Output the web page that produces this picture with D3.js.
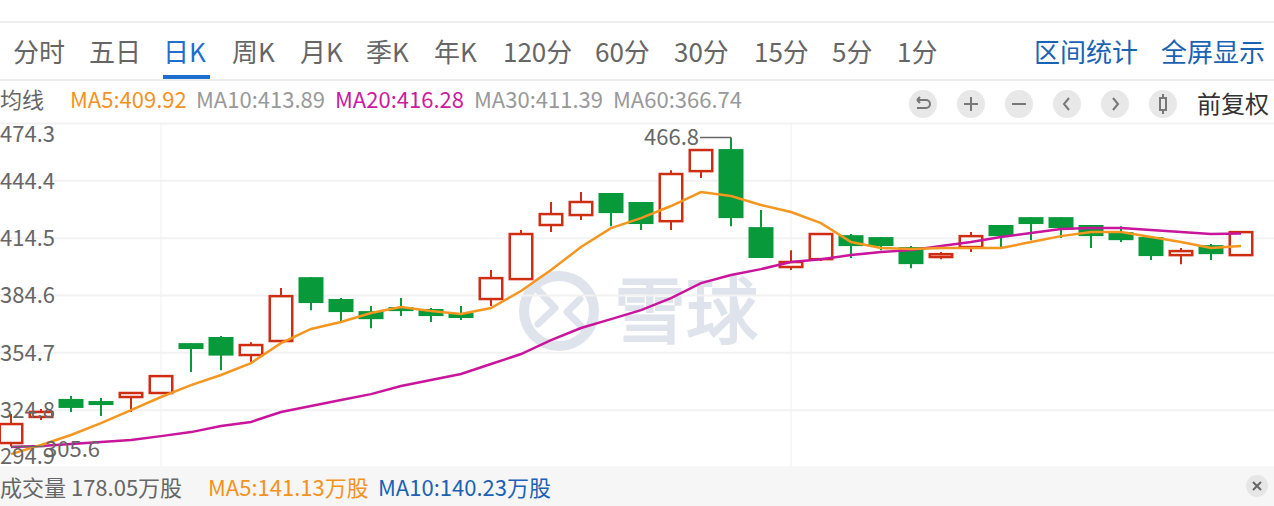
<!DOCTYPE html>
<html>
<head>
<meta charset="utf-8">
<script src="https://cdn.jsdelivr.net/npm/d3@7"></script>
<style>
  html, body { margin: 0; padding: 0; background: #fff; overflow: hidden; }
  svg { display: block; }
  text { font-family: "Noto Sans CJK SC", "Noto Sans", sans-serif; }
</style>
</head>
<body>
<svg id="chart"></svg>
<script>
// Prix, bougie par bougie
const open = [307.4, 321.0, 330.4, 329.3, 331.4, 333.5, 359.5, 362.7, 353.3, 360.6, 393.9, 382.5, 376.2, 378.3, 377.3, 375.2, 382.5, 392.9, 421.1, 426.3, 437.8, 433.1, 423.1, 449.2, 460.7, 420.0, 399.2, 403.3, 415.8, 414.8, 409.6, 404.4, 409.6, 421.1, 425.2, 425.2, 421.1, 417.4, 414.8, 405.4, 410.6, 405.4];
const close = [317.3, 323.6, 325.7, 327.2, 333.5, 342.3, 356.4, 353.0, 358.5, 384.0, 380.4, 375.7, 372.0, 376.2, 373.6, 372.6, 393.4, 416.4, 426.8, 433.1, 427.3, 421.6, 447.7, 460.2, 424.7, 403.9, 401.8, 416.4, 410.1, 410.1, 400.7, 405.9, 415.3, 415.3, 421.6, 419.5, 415.3, 413.2, 404.9, 407.5, 405.9, 417.4];
const high = [322.5, 325.1, 331.9, 330.9, 333.5, 342.3, 359.5, 363.2, 360.0, 388.2, 393.9, 383.0, 378.8, 383.0, 377.8, 378.8, 397.6, 418.5, 433.1, 438.3, 437.8, 433.1, 449.7, 460.2, 466.8, 428.9, 408.0, 416.4, 416.4, 414.8, 410.1, 407.0, 417.4, 421.1, 425.2, 425.2, 421.1, 420.5, 414.8, 409.1, 411.2, 417.4];
const low = [305.6, 319.4, 323.6, 321.5, 323.6, 333.5, 344.4, 345.4, 349.6, 359.0, 376.7, 370.5, 367.3, 373.6, 370.5, 371.5, 378.8, 392.9, 417.4, 423.7, 420.5, 418.5, 418.5, 445.6, 420.5, 403.9, 397.6, 402.3, 403.9, 408.0, 398.6, 403.3, 407.0, 409.1, 413.2, 414.3, 409.1, 412.2, 402.8, 400.7, 402.8, 405.4];
const ma5 = [301.6, 306.4, 311.6, 317.8, 324.6, 331.4, 337.6, 342.9, 349.1, 359.5, 366.9, 370.5, 375.2, 378.3, 376.2, 374.7, 377.8, 386.7, 397.6, 409.6, 419.5, 424.7, 431.0, 438.3, 436.2, 431.5, 427.9, 422.1, 412.2, 409.1, 408.6, 409.1, 409.1, 409.1, 412.2, 415.3, 417.4, 417.4, 414.8, 412.2, 409.1, 410.1];
const ma20 = [305.3, 305.8, 306.9, 307.9, 309.0, 311.0, 313.1, 316.3, 318.4, 323.6, 326.7, 329.8, 332.9, 337.1, 340.3, 343.4, 348.6, 353.8, 361.1, 367.4, 372.0, 376.7, 383.0, 390.8, 395.0, 398.1, 401.8, 403.3, 405.4, 407.0, 408.0, 410.1, 412.2, 414.8, 416.9, 419.0, 419.5, 419.5, 418.5, 417.4, 416.4, 416.7];
const days = d3.range(open.length);
const priceTicks = [474.3, 444.4, 414.5, 384.6, 354.7, 324.8, 294.9];
const timeGrid = [5, 26]; // bougies portant une ligne verticale

// Textes de l'interface
const tabs = [["分时", 13], ["五日", 89], ["日K", 163], ["周K", 232], ["月K", 300], ["季K", 366], ["年K", 434], ["120分", 503], ["60分", 595], ["30分", 674], ["15分", 754], ["5分", 832], ["1分", 897]];
const maLabels = [["MA5:409.92", 70, "#f5921e"], ["MA10:413.89", 196, "#999"], ["MA20:416.28", 335, "#cc1a9f"], ["MA30:411.39", 474, "#999"], ["MA60:366.74", 613, "#999"]];

const width = 1274;
const height = 506;
const red = "#cf2d12";
const green = "#08993a";
const svg = d3.select("#chart").attr("width", width).attr("height", height);

const plotTop = 123;
const plotBottom = 467;
const bodyW = 25;

const x = d3.scalePoint().domain(days).range([11, 1241]);
const y = d3.scaleLinear().domain([294.9, 474.3]).range([plotBottom, plotTop]);

// Barre d'onglets
svg.append("rect").attr("x", -2).attr("y", 22).attr("width", width + 4).attr("height", 58)
  .attr("fill", "#fff").attr("stroke", "#eeeeee").attr("stroke-width", 2);
svg.selectAll(".tab").data(tabs).enter().append("text")
  .attr("x", (d) => d[1]).attr("y", 62)
  .attr("font-size", 26)
  .attr("fill", (d) => (d[0] === "日K" ? "#1d6fce" : "#666"))
  .text((d) => d[0]);
svg.append("rect").attr("x", 163).attr("y", 75).attr("width", 47).attr("height", 4).attr("fill", "#1d6fce");
svg.append("text").attr("x", 1034).attr("y", 62).attr("font-size", 26).attr("fill", "#1a62b4").text("区间统计");
svg.append("text").attr("x", 1161).attr("y", 62).attr("font-size", 26).attr("fill", "#1a62b4").text("全屏显示");

// Ligne des moyennes
svg.append("text").attr("x", 0).attr("y", 108).attr("font-size", 22).attr("fill", "#666").text("均线");
svg.selectAll(".ma").data(maLabels).enter().append("text")
  .attr("x", (d) => d[1]).attr("y", 108)
  .attr("font-size", 22)
  .attr("fill", (d) => d[2])
  .text((d) => d[0]);

// Boutons ronds
const icons = [
  "M-6,-4 H3 A4,4 0 0 1 3,4 H-6 M-6,-4 l3,-3 M-6,-4 l3,3",
  "M-7,0 H7 M0,-7 V7",
  "M-7,0 H7",
  "M2,-6 L-3,0 L2,6",
  "M-2,-6 L3,0 L-2,6",
  "M-3,-6 H3 V6 H-3 Z M0,-10 V-6 M0,6 V10",
];
icons.forEach((d, i) => {
  const b = svg.append("g").attr("transform", `translate(${923 + i * 48}, 104)`);
  b.append("circle").attr("r", 14).attr("fill", "#e8e8e8");
  b.append("path").attr("d", d).attr("fill", "none").attr("stroke", "#777").attr("stroke-width", 2);
});
svg.append("text").attr("x", 1197).attr("y", 113).attr("font-size", 24).attr("fill", "#333").text("前复权");

// Filigrane
const mark = svg.append("g").attr("fill", "none").attr("stroke", "#dfe3ec")
  .attr("stroke-linecap", "round").attr("stroke-linejoin", "round");
mark.append("circle").attr("cx", 559).attr("cy", 311).attr("r", 35).attr("stroke-width", 10);
mark.append("path").attr("stroke-width", 7).attr("d", "M538,290 L555,308 L538,324 M580,299 L567,312 L582,327");
svg.append("text").attr("x", 614).attr("y", 337).attr("font-size", 72)
  .attr("fill", "#dfe3ec").attr("stroke", "#dfe3ec").attr("stroke-width", 2).text("雪球");

// Grille verticale
svg.selectAll(".vgrid").data(timeGrid).enter().append("line")
  .attr("x1", (d) => x(d)).attr("x2", (d) => x(d))
  .attr("y1", plotTop).attr("y2", plotBottom)
  .attr("stroke", "#f0f0f0");

// Grille horizontale, sous les bougies
const grid = svg.append("g")
  .call(d3.axisRight(y).tickValues(priceTicks).tickSize(width).tickFormat(""));
grid.select(".domain").remove();
grid.selectAll("line").attr("stroke", "#f2f2f2").attr("stroke-width", 2);

// Bougies
const candles = svg.append("g");
candles.selectAll("line").data(days).enter().append("line")
  .attr("x1", (i) => x(i)).attr("x2", (i) => x(i))
  .attr("y1", (i) => y(high[i])).attr("y2", (i) => y(low[i]))
  .attr("stroke", (i) => (close[i] >= open[i] ? red : green))
  .attr("stroke-width", 2);
candles.selectAll("rect").data(days).enter().append("rect")
  .attr("x", (i) => x(i) - bodyW / 2 + (close[i] >= open[i] ? 1.25 : 0))
  .attr("width", (i) => bodyW - (close[i] >= open[i] ? 2.5 : 0))
  .attr("y", (i) => y(Math.max(open[i], close[i])))
  .attr("height", (i) => Math.abs(y(open[i]) - y(close[i])))
  .attr("fill", (i) => (close[i] >= open[i] ? "#fff" : green))
  .attr("stroke", (i) => (close[i] >= open[i] ? red : "none"))
  .attr("stroke-width", 2.5);

// Moyennes mobiles
const line = d3.line().x((d, i) => x(i)).y((d) => y(d));
svg.append("path").datum(ma20).attr("fill", "none").attr("stroke", "#c8159c").attr("stroke-width", 2.5).attr("d", line);
svg.append("path").datum(ma5).attr("fill", "none").attr("stroke", "#f4961f").attr("stroke-width", 2.5).attr("d", line);

// Libellés des prix, décalés aux extrémités
const yAxis = svg.append("g")
  .call(d3.axisRight(y).tickValues(priceTicks).tickSize(0).tickFormat(d3.format(".1f")));
yAxis.select(".domain").remove();
yAxis.selectAll("text")
  .attr("x", 0)
  .attr("dy", (d) => (d === 474.3 ? "0.85em" : d === 294.9 ? "-0.15em" : "0.36em"))
  .attr("text-anchor", "start")
  .attr("font-size", 22)
  .attr("font-family", '"Noto Sans CJK SC", sans-serif')
  .attr("fill", "#666");

// Plus haut et plus bas
const hiY = y(d3.max(high));
const loY = y(d3.min(low));
svg.append("path").attr("fill", "none").attr("stroke", "#666").attr("stroke-width", 1.5)
  .attr("d", `M700,${hiY} H${x(24)} M${x(0)},${loY} H45`);
svg.append("text").attr("x", 699).attr("y", hiY + 8).attr("text-anchor", "end")
  .attr("font-size", 22).attr("fill", "#666").text(d3.max(high).toFixed(1));
svg.append("text").attr("x", 45).attr("y", loY + 11)
  .attr("font-size", 22).attr("fill", "#666").text(d3.min(low).toFixed(1));

// Bandeau du volume
svg.append("rect").attr("x", 0).attr("y", plotBottom).attr("width", width).attr("height", height - plotBottom).attr("fill", "#f6f6f6");
svg.append("text").attr("x", 0).attr("y", 496).attr("font-size", 22).attr("fill", "#666").text("成交量 178.05万股");
svg.append("text").attr("x", 208).attr("y", 496).attr("font-size", 22).attr("fill", "#f5921e").text("MA5:141.13万股");
svg.append("text").attr("x", 378).attr("y", 496).attr("font-size", 22).attr("fill", "#1a62b4").text("MA10:140.23万股");
svg.append("circle").attr("cx", 1257).attr("cy", 486).attr("r", 11).attr("fill", "#e6e6e6");
svg.append("path").attr("d", "M1253,482 L1261,490 M1261,482 L1253,490").attr("stroke", "#666").attr("stroke-width", 2);
</script>
</body>
</html>
